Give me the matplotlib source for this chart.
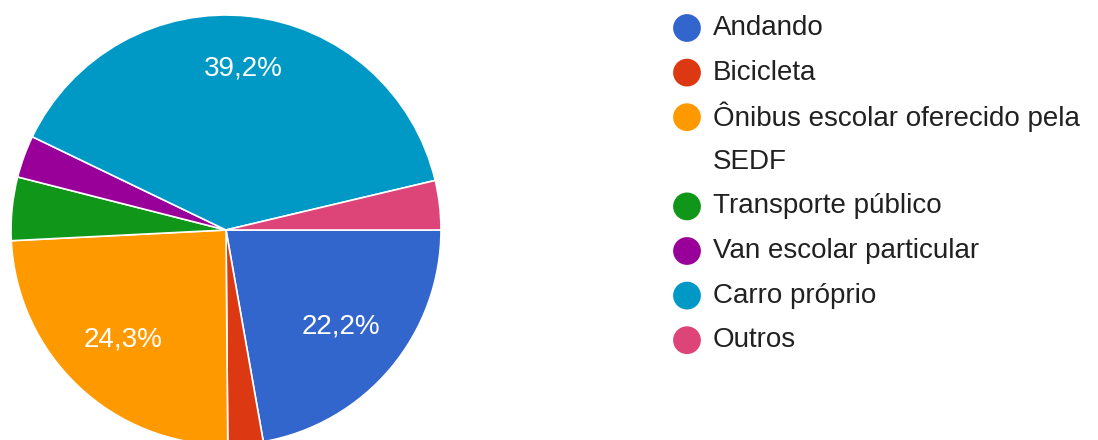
import matplotlib.pyplot as plt
import matplotlib as mpl

# answers (counts, 189 responses)
categories = ['Andando', 'Bicicleta', 'Ônibus escolar oferecido pela\nSEDF',
              'Transporte público', 'Van escolar particular', 'Carro próprio', 'Outros']
counts = [42, 5, 46, 9, 6, 74, 7]
colors = ['#3366cc', '#dc3912', '#ff9900', '#109618', '#990099', '#0099c6', '#dd4477']

mpl.rcParams['font.family'] = ['Liberation Sans', 'DejaVu Sans']

W, H = 1098, 440
fig = plt.figure(figsize=(W / 100, H / 100), dpi=100)
fig.patch.set_facecolor('white')

# pie: centre (226, 230) px, radius 215 px
cx, cy, r = 226, 230, 215
ax = fig.add_axes([(cx - r) / W, (H - cy - r) / H, 2 * r / W, 2 * r / H])


def pct_label(p):
    if p < 5:
        return ''
    return f'{p:.1f}%'.replace('.', ',')


wedges, texts, autotexts = ax.pie(
    counts, colors=colors, startangle=0, counterclock=False,
    autopct=pct_label, pctdistance=0.7,
    wedgeprops=dict(edgecolor='white', linewidth=1.2),
    textprops=dict(color='white', fontsize=20))
# biggest slice label sits a bit further out
px, py = autotexts[5].get_position()
autotexts[5].set_position((px * 1.08, py * 1.08))
ax.set_xlim(-1, 1)
ax.set_ylim(-1, 1)
ax.set_aspect('equal')

# legend drawn in pixel coordinates
lax = fig.add_axes([0, 0, 1, 1])
lax.set_xlim(0, W)
lax.set_ylim(H, 0)
lax.axis('off')
lax.patch.set_alpha(0)

y0, step = 28, 44.6
line = 0
for name, col in zip(categories, colors):
    y = y0 + step * line
    lax.scatter([687], [y], s=400, color=col, edgecolors='none')
    for k, part in enumerate(name.split('\n')):
        lax.text(713, y + step * k, part, fontsize=20, color='#212121',
                 va='center', ha='left')
    line += len(name.split('\n'))

fig.savefig('out.png', dpi=100)
